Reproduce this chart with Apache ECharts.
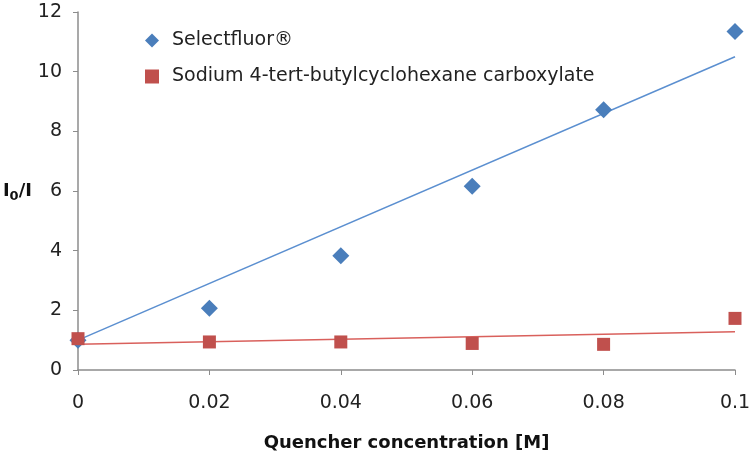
<!DOCTYPE html>
<html><head><meta charset="utf-8">
<script src="https://cdn.jsdelivr.net/npm/echarts@6/dist/echarts.min.js"></script>
<style>html,body{margin:0;padding:0;background:#fff}#c{width:750px;height:456px}</style>
</head><body><div id="c"></div>
<script>
const xValues = [0, 0.02, 0.04, 0.06, 0.08, 0.1];
const selectfluor = [1.0, 2.07, 3.83, 6.16, 8.72, 11.35];
const sodium = [1.05, 0.94, 0.94, 0.89, 0.86, 1.73];
const selectfluorTrend = [[0, 1.0], [0.1, 10.5]];
const sodiumTrend = [[0, 0.86], [0.1, 1.28]];
const seriesNames = ['Selectfluor®', 'Sodium 4-tert-butylcyclohexane carboxylate'];

const blue = '#4a7ebb', red = '#c0504d';
const font = 'DejaVu Sans, Liberation Sans, sans-serif';
const chart = echarts.init(document.getElementById('c'));
chart.setOption({
  animation: false,
  grid: {left: 78, right: 15, top: 12, bottom: 86, containLabel: false, outerBoundsMode: 'none'},
  legend: {
    orient: 'vertical', left: 140, top: 26, itemGap: 17,
    itemWidth: 14, itemHeight: 14,
    data: [{name: seriesNames[0], icon: 'diamond'}, {name: seriesNames[1], icon: 'rect'}],
    textStyle: {fontFamily: font, fontSize: 19, color: '#222', padding: [0,0,0,8]}
  },
  xAxis: {
    type: 'value', min: 0, max: 0.1, interval: 0.02,
    name: 'Quencher concentration [M]', nameLocation: 'middle', nameGap: 64,
    nameTextStyle: {fontFamily: font, fontSize: 18, fontWeight: 'bold', color: '#111'},
    axisLine: {show: true, lineStyle: {color: '#8c8c8c', width: 1.5}},
    axisTick: {show: true, length: 5, lineStyle: {color: '#8c8c8c'}},
    axisLabel: {fontFamily: font, fontSize: 19, color: '#222', margin: 24,
      formatter: v => String(+v.toFixed(2))},
    splitLine: {show: false}
  },
  yAxis: {
    type: 'value', min: 0, max: 12, interval: 2,
    name: 'I{s|0}/I', nameLocation: 'middle', nameGap: 46, nameRotate: 0,
    nameTextStyle: {fontFamily: font, fontSize: 18, fontWeight: 'bold', color: '#111',
      rich: {s: {fontFamily: font, fontSize: 13, fontWeight: 'bold', verticalAlign: 'bottom', padding: [12,0,0,0]}}},
    axisLine: {show: true, lineStyle: {color: '#8c8c8c', width: 1.5}},
    axisTick: {show: true, length: 5, lineStyle: {color: '#8c8c8c'}},
    axisLabel: {fontFamily: font, fontSize: 19, color: '#222', margin: 16},
    splitLine: {show: false}
  },
  series: [
    {name: 'fit1', type: 'line', data: selectfluorTrend, symbol: 'none', silent: true,
      lineStyle: {color: '#5b8fd0', width: 1.5}, z: 1},
    {name: 'fit2', type: 'line', data: sodiumTrend, symbol: 'none', silent: true,
      lineStyle: {color: '#d9605c', width: 1.5}, z: 1},
    {name: seriesNames[0], type: 'scatter', symbol: 'diamond', symbolSize: 17,
      itemStyle: {color: blue, opacity: 1}, data: xValues.map((x, i) => [x, selectfluor[i]]), z: 3},
    {name: seriesNames[1], type: 'scatter', symbol: 'rect', symbolSize: 13,
      itemStyle: {color: red, opacity: 1}, data: xValues.map((x, i) => [x, sodium[i]]), z: 4}
  ]
});
</script></body></html>
